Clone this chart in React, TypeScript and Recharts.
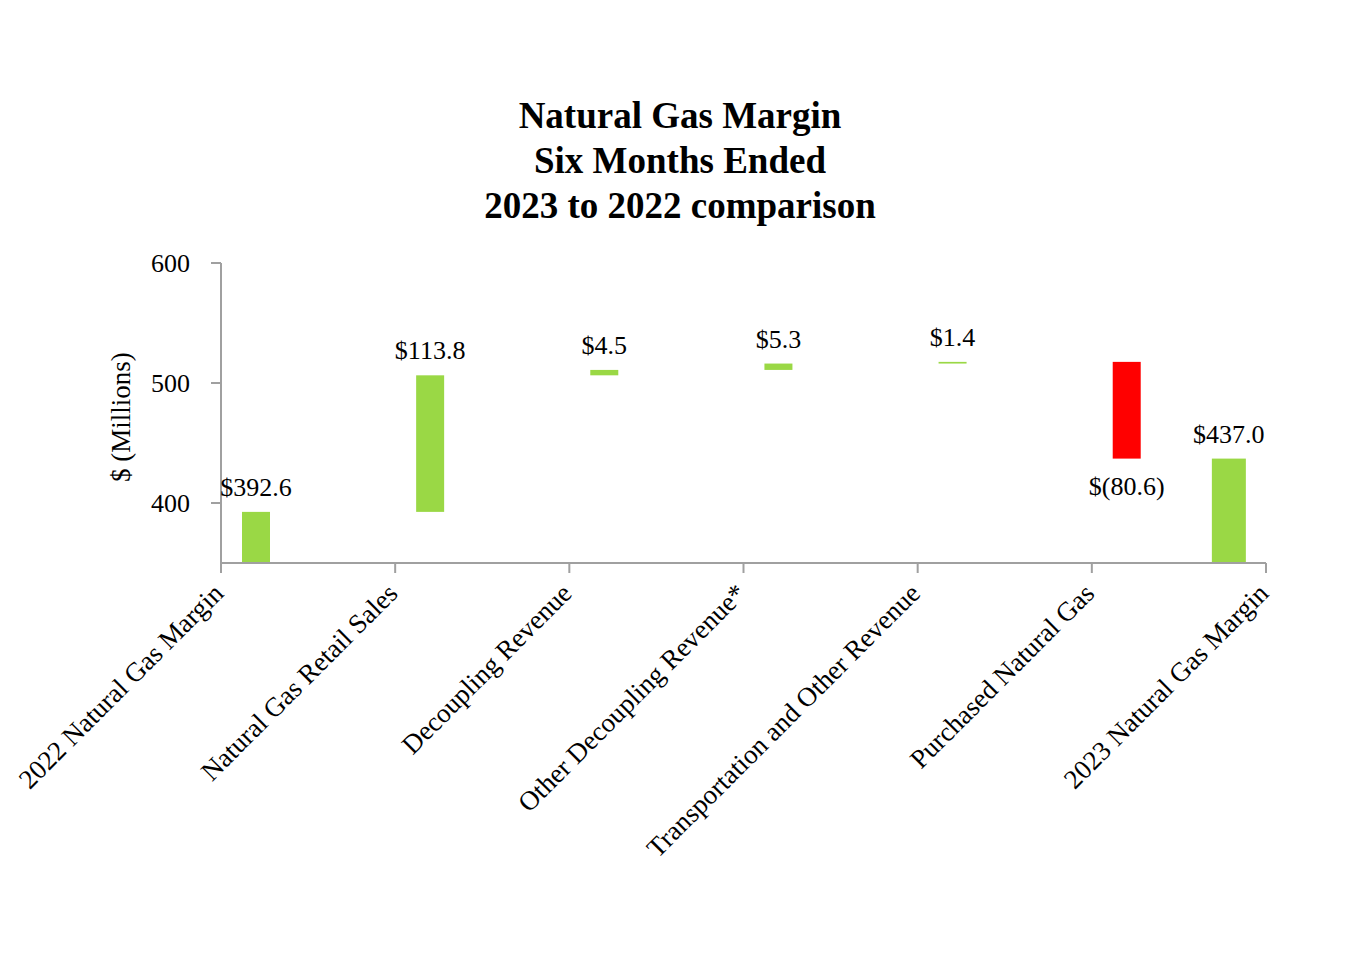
// Waterfall: natural gas margin, six months 2023 vs 2022

import React from 'react';
import { ComposedChart, Bar, XAxis, YAxis, LabelList, Label } from 'recharts';

const categories = [
  '2022 Natural Gas Margin',
  'Natural Gas Retail Sales',
  'Decoupling Revenue',
  'Other Decoupling Revenue*',
  'Transportation and Other Revenue',
  'Purchased Natural Gas',
  '2023 Natural Gas Margin',
];
const changes = [392.6, 113.8, 4.5, 5.3, 1.4, -80.6, 437.0];
const isTotal = [true, false, false, false, false, false, true];
const valueLabels = ['$392.6', '$113.8', '$4.5', '$5.3', '$1.4', '$(80.6)', '$437.0'];
const yTicks = [400, 500, 600];
const titleLines = ['Natural Gas Margin', 'Six Months Ended', '2023 to 2022 comparison'];

// running total -> floating range per bar
let running = 0;
const data = categories.map((name, i) => {
  const v = changes[i];
  let low;
  let high;
  if (isTotal[i]) {
    low = 0;
    high = v;
    running = v;
  } else {
    low = Math.min(running, running + v);
    high = Math.max(running, running + v);
    running += v;
  }
  return { name, low, high, change: v };
});

const FONT = "'Liberation Serif', 'Times New Roman', serif";
const AXIS = '#a0a0a0';
const GREEN = '#9ad845';
const RED = '#ff0000';
const LAST_SHIFT = -72; // closing bar sits left of the last tick
const LAST_WIDTH = 34;

// geometry of a bar after the closing-bar adjustment
const barGeom = (p: any) => {
  const last = p.index === categories.length - 1;
  const w = last ? LAST_WIDTH : p.width;
  const cx = p.x + p.width / 2 + (last ? LAST_SHIFT : 0);
  const top = Math.min(p.y, p.y + p.height);
  const bottom = Math.max(p.y, p.y + p.height);
  return { cx, w, top, bottom };
};

const WaterfallBar = (props: any) => {
  const { cx, w, top, bottom } = barGeom(props);
  const fill = changes[props.index] < 0 ? RED : GREEN;
  return <rect x={cx - w / 2} y={top} width={w} height={bottom - top} fill={fill} />;
};

const ValueLabel = (props: any) => {
  const { cx, top, bottom } = barGeom(props);
  const neg = changes[props.index] < 0;
  return (
    <text
      x={cx}
      y={neg ? bottom + 36 : top - 16}
      textAnchor="middle"
      fontFamily={FONT}
      fontSize={26}
      fill="#000"
    >
      {valueLabels[props.index]}
    </text>
  );
};

const CategoryTick = ({ x, y, payload }: any) => {
  const ax = x + 4;
  const ay = y + 20;
  return (
    <text
      x={ax}
      y={ay}
      transform={`rotate(-45, ${ax}, ${ay})`}
      textAnchor="end"
      fontFamily={FONT}
      fontSize={27}
      fill="#000"
    >
      {payload.value}
    </text>
  );
};

const YTitle = () => (
  <text
    x={121}
    y={417}
    transform="rotate(-90, 121, 417)"
    textAnchor="middle"
    dominantBaseline="central"
    fontFamily={FONT}
    fontSize={27}
    fill="#000"
  >
    $ (Millions)
  </text>
);

const App = () => {
  return (
    <div style={{ position: 'absolute', left: 0, top: 0, width: 1364, height: 960, background: '#fff' }}>
      <div
        style={{
          position: 'absolute',
          left: 0,
          top: 93,
          width: 1360,
          textAlign: 'center',
          fontFamily: FONT,
          fontWeight: 'bold',
          fontSize: 37,
          lineHeight: '45px',
        }}
      >
        {titleLines.map((t) => (
          <div key={t}>{t}</div>
        ))}
      </div>
      <ComposedChart
        width={1364}
        height={960}
        data={data}
        margin={{ top: 263, right: 98, bottom: 97, left: 0 }}
      >
        <XAxis xAxisId="bars" dataKey="name" hide height={0} padding={{ left: -52, right: -122 }} />
        <XAxis
          xAxisId="labels"
          dataKey="name"
          scale="point"
          padding={{ left: 0, right: 0 }}
          interval={0}
          height={300}
          tickSize={10}
          tick={<CategoryTick />}
          axisLine={{ stroke: AXIS, strokeWidth: 2 }}
          tickLine={{ stroke: AXIS, strokeWidth: 2 }}
        />
        <YAxis
          type="number"
          domain={[350, 600]}
          ticks={yTicks}
          allowDataOverflow
          width={221}
          tickSize={10}
          tickMargin={21}
          tick={{ fontFamily: FONT, fontSize: 26, fill: '#000' }}
          axisLine={{ stroke: AXIS, strokeWidth: 2 }}
          tickLine={{ stroke: AXIS, strokeWidth: 2 }}
        >
          <Label content={<YTitle />} />
        </YAxis>
        <Bar
          xAxisId="bars"
          dataKey={(d: any) => [d.low, d.high]}
          barSize={28}
          shape={<WaterfallBar />}
          isAnimationActive={false}
        >
          <LabelList content={<ValueLabel />} />
        </Bar>
      </ComposedChart>
    </div>
  );
};

export default App;
